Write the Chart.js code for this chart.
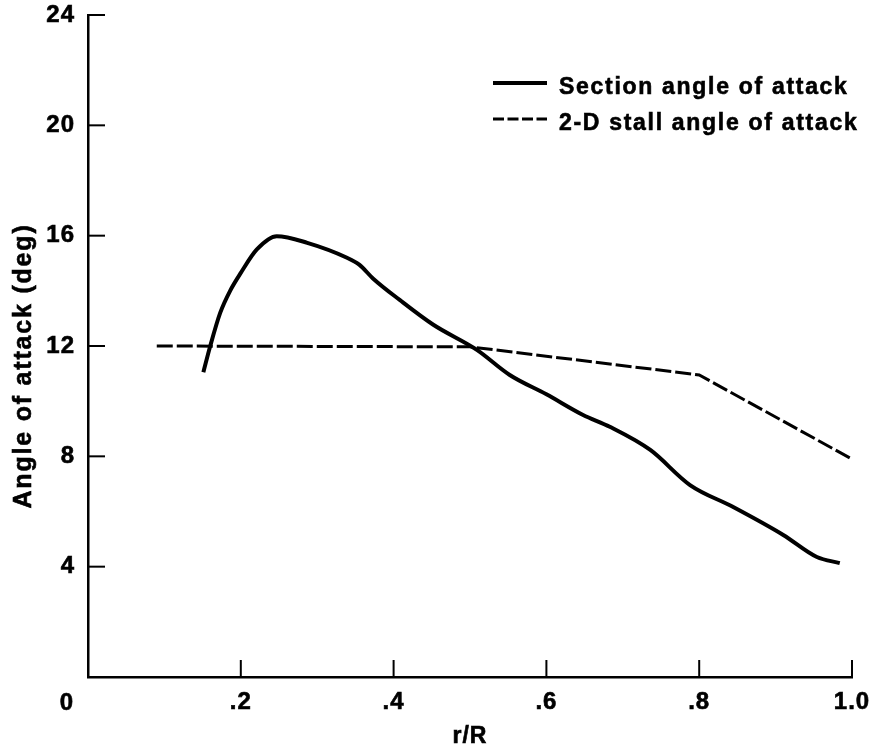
<!DOCTYPE html>
<html>
<head>
<meta charset="utf-8">
<title>Angle of attack vs r/R</title>
<script src="https://cdn.jsdelivr.net/npm/chart.js@4.4.0/dist/chart.umd.min.js"></script>
<style>
  html, body { margin: 0; padding: 0; background: #fff; }
  #wrap { width: 871px; height: 749px; position: relative; }
</style>
</head>
<body>
<div id="wrap"><canvas id="aoaChart"></canvas></div>
<script>
// r/R stations and angles
const sectionR = [0.151, 0.160, 0.173, 0.186, 0.200, 0.221, 0.247, 0.287, 0.339, 0.355, 0.373, 0.408,
                  0.452, 0.509, 0.552, 0.600, 0.648, 0.683, 0.736, 0.788, 0.844, 0.910, 0.954, 0.984];
const sectionAoa = [11.05, 12.0, 13.2, 14.0, 14.65, 15.5, 15.98, 15.74, 15.2, 14.95, 14.45, 13.67,
                    12.77, 11.86, 10.95, 10.25, 9.5, 9.07, 8.23, 6.96, 6.17, 5.15, 4.35, 4.13];

const stallR = [0.09, 0.50, 0.80, 1.00];
const stallAoa = [12.0, 11.97, 10.95, 7.9];

const seriesLabels = ['Section angle of attack', '2-D stall angle of attack'];
const xTicks = [0, 0.2, 0.4, 0.6, 0.8, 1.0];
const xTickText = ['0', '.2', '.4', '.6', '.8', '1.0'];
const yTicks = [0, 4, 8, 12, 16, 20, 24];

const FONT = '"Liberation Sans", Arial, Helvetica, sans-serif';

function toPoints(xs, ys) {
    return xs.map((v, i) => ({ x: v, y: ys[i] }));
}

// filled text with a thin outline, the scan looks heavy
function heavyText(ctx, text, x, y) {
    ctx.fillText(text, x, y);
    ctx.strokeText(text, x, y);
}

// axes decorations: inward ticks, titles, origin label and legend
const decor = {
    id: 'decor',
    beforeDraw(chart) {
        chart.ctx.letterSpacing = '1px';
    },
    afterDraw(chart) {
        const ctx = chart.ctx;
        const xs = chart.scales.x;
        const ys = chart.scales.y;
        const area = chart.chartArea;
        ctx.save();
        ctx.strokeStyle = '#000';
        ctx.lineWidth = 2;
        ctx.setLineDash([]);

        xTicks.forEach(v => {
            if (v === 0) return;
            const px = xs.getPixelForValue(v);
            ctx.beginPath();
            ctx.moveTo(px, area.bottom);
            ctx.lineTo(px, area.bottom - 17);
            ctx.stroke();
        });
        yTicks.forEach(v => {
            if (v === 0) return;
            const py = ys.getPixelForValue(v);
            ctx.beginPath();
            ctx.moveTo(area.left, py);
            ctx.lineTo(area.left + 17, py);
            ctx.stroke();
        });

        ctx.fillStyle = '#000';
        ctx.lineWidth = 0.6;

        // origin label sits on the x label row, left of the axis
        ctx.font = 'bold 24px ' + FONT;
        ctx.letterSpacing = '1px';
        ctx.textAlign = 'center';
        ctx.textBaseline = 'alphabetic';
        heavyText(ctx, xTickText[0], area.left - 21, 710);

        // x title
        ctx.font = 'bold 23px ' + FONT;
        heavyText(ctx, 'r/R', (area.left + area.right) / 2, 743);

        // y title
        ctx.save();
        ctx.translate(24, 366);
        ctx.rotate(-Math.PI / 2);
        ctx.font = 'bold 25px ' + FONT;
        ctx.letterSpacing = '1.8px';
        ctx.textBaseline = 'middle';
        heavyText(ctx, 'Angle of attack (deg)', 0, 0);
        ctx.restore();

        // legend
        const rows = [94, 130];
        chart.data.datasets.forEach((ds, i) => {
            const base = rows[i];
            ctx.save();
            ctx.strokeStyle = ds.borderColor;
            ctx.lineWidth = i === 0 ? 4 : 3;
            ctx.setLineDash(i === 0 ? [] : [11, 3.5]);
            ctx.beginPath();
            ctx.moveTo(493, base - 11);
            ctx.lineTo(547, base - 11);
            ctx.stroke();
            ctx.restore();
            ctx.font = 'bold 23px ' + FONT;
            ctx.letterSpacing = '1.7px';
            ctx.textAlign = 'left';
            ctx.textBaseline = 'alphabetic';
            heavyText(ctx, ds.label, 559, base);
        });
        ctx.restore();
    }
};

const ctx = document.getElementById('aoaChart').getContext('2d');
const aoaChart = new Chart(ctx, {
    type: 'line',
    data: {
        datasets: [{
            label: seriesLabels[0],
            data: toPoints(sectionR, sectionAoa),
            borderColor: '#000',
            borderWidth: 4,
            pointRadius: 0,
            cubicInterpolationMode: 'monotone',
            fill: false
        }, {
            label: seriesLabels[1],
            data: toPoints(stallR, stallAoa),
            borderColor: '#000',
            borderWidth: 3,
            borderDash: [16, 4],
            pointRadius: 0,
            tension: 0,
            fill: false
        }]
    },
    options: {
        responsive: true,
        maintainAspectRatio: false,
        animation: false,
        devicePixelRatio: 1,
        layout: { padding: { top: 15, right: 19, left: 0, bottom: 0 } },
        plugins: {
            legend: { display: false },
            tooltip: { enabled: false }
        },
        scales: {
            x: {
                type: 'linear',
                min: 0,
                max: 1,
                afterBuildTicks: scale => {
                    scale.ticks = xTicks.map(v => ({ value: v }));
                },
                ticks: {
                    color: '#000',
                    font: { family: FONT, size: 24, weight: 'bold' },
                    textStrokeColor: '#000',
                    textStrokeWidth: 0.6,
                    padding: 11,
                    maxRotation: 0,
                    autoSkip: false,
                    callback: v => {
                        const i = xTicks.indexOf(v);
                        return i > 0 ? xTickText[i] : '';
                    }
                },
                grid: { display: true, drawOnChartArea: false, drawTicks: false },
                border: { display: true, color: '#000', width: 2.5 },
                afterFit: scale => {
                    scale.height = 72;
                    scale.paddingLeft = 0;
                    scale.paddingRight = 0;
                }
            },
            y: {
                type: 'linear',
                min: 0,
                max: 24,
                afterBuildTicks: scale => {
                    scale.ticks = yTicks.map(v => ({ value: v }));
                },
                ticks: {
                    color: '#000',
                    font: { family: FONT, size: 24, weight: 'bold' },
                    textStrokeColor: '#000',
                    textStrokeWidth: 0.6,
                    padding: 13,
                    autoSkip: false,
                    callback: v => (v === 0 ? '' : String(v))
                },
                grid: { display: true, drawOnChartArea: false, drawTicks: false },
                border: { display: true, color: '#000', width: 2.5 },
                afterFit: scale => {
                    scale.width = 88;
                    scale.paddingTop = 0;
                    scale.paddingBottom = 0;
                }
            }
        }
    },
    plugins: [decor]
});
</script>
</body>
</html>
